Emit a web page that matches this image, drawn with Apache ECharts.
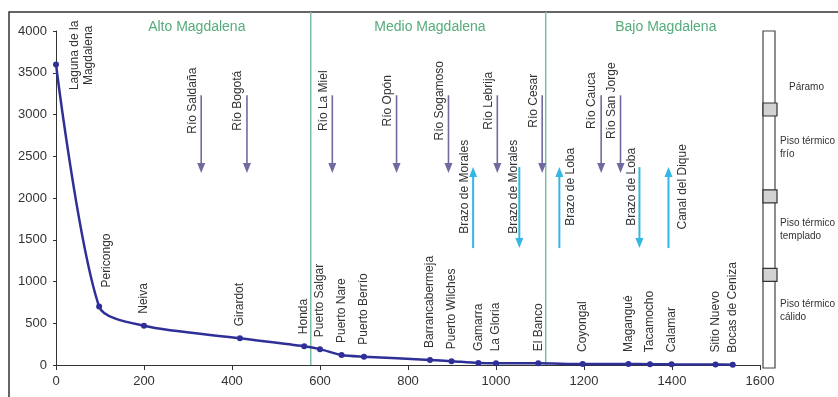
<!DOCTYPE html>
<html>
<head>
<meta charset="utf-8">
<script src="https://cdn.jsdelivr.net/npm/echarts@6/dist/echarts.min.js"></script>
<style>
  html, body { margin: 0; padding: 0; background: #fff; }
  #chart { width: 838px; height: 397px; }
</style>
</head>
<body>
<div id="chart"></div>
<script>
// Perfil longitudinal del río Magdalena: distancia desde el nacimiento (km) y altitud (m s.n.m.)

// Poblaciones sobre el cauce
const towns = ['Laguna de la\nMagdalena', 'Pericongo', 'Neiva', 'Girardot', 'Honda', 'Puerto Salgar',
  'Puerto Nare', 'Puerto Berrío', 'Barrancabermeja', 'Puerto Wilches', 'Gamarra', 'La Gloria',
  'El Banco', 'Coyongal', 'Magangué', 'Tacamocho', 'Calamar', 'Sitio Nuevo', 'Bocas de Ceniza'];
const townKm = [0, 98, 200, 418, 564, 600, 649, 700, 850, 899, 960, 1000, 1096, 1197, 1301, 1350, 1399, 1499, 1538];
const townAlt = [3600, 700, 470, 320, 225, 190, 120, 100, 60, 45, 25, 20, 20, 12, 12, 10, 8, 6, 3];

// Afluentes (entran al río)
const tributaries = ['Río Saldaña', 'Río Bogotá', 'Río La Miel', 'Río Opón', 'Río Sogamoso',
  'Río Lebrija', 'Río Cesar', 'Río Cauca', 'Río San Jorge'];
const tributaryKm = [330, 434, 628, 774, 892, 1003, 1105, 1239, 1283];

// Brazos y canales (salen del cauce o regresan a él)
const branches = ['Brazo de Morales', 'Brazo de Morales', 'Brazo de Loba', 'Brazo de Loba', 'Canal del Dique'];
const branchKm = [948, 1053, 1144, 1326, 1392];
const branchFlow = ['sale', 'entra', 'sale', 'entra', 'sale'];

// Tramos del río
const reaches = ['Alto Magdalena', 'Medio Magdalena', 'Bajo Magdalena'];
const reachLimitsKm = [579, 1113];

// Pisos térmicos
const floors = ['Páramo', 'Piso térmico\nfrío', 'Piso térmico\ntemplado', 'Piso térmico\ncálido'];
const floorLimits = [3060, 2020, 1080];

// Ejes
const xTicks = [0, 200, 400, 600, 800, 1000, 1200, 1400, 1600];
const yTicks = [0, 500, 1000, 1500, 2000, 2500, 3000, 3500, 4000];

// ---- estilo y disposición ----
const FONT = '"Liberation Sans", Arial, Helvetica, sans-serif';
const LINE_COLOR = '#2f2f98';
const TRIB_COLOR = '#6f6ba0';
const BRANCH_COLOR = '#33b8e6';
const REACH_COLOR = '#7fbfa2';
const REACH_TEXT = '#55ab7a';
const TEXT = '#333';

const reachTitleKm = [320, 850, 1386];
const tribArrow = { top: 3230, bottom: 2300, labelAt: 3165, dx: -9 };
const branchArrow = { top: 2370, bottom: 1400, labelAt: 2134 };
const branchLabelDx = [-8, -6, 11, -8, 14];
const townLabelLayout = { 0: { dx: 26, dy: -9, align: 'center' }, 1: { dx: 8, dy: -19, align: 'left' } };
const floorLabelAt = [3330, 2600, 1620, 650];
const floorLabelDx = [26, 17, 17, 17];

function arrow(x, yFrom, yTo, color, width, headW, headL) {
  const dir = yTo > yFrom ? 1 : -1;
  return [
    { type: 'line', shape: { x1: x, y1: yFrom, x2: x, y2: yTo - dir * headL * 0.5 },
      style: { stroke: color, lineWidth: width } },
    { type: 'polygon', shape: { points: [[x - headW / 2, yTo - dir * headL], [x + headW / 2, yTo - dir * headL], [x, yTo]] },
      style: { fill: color } }
  ];
}

function vText(text, x, y, align, size, color) {
  return { type: 'text', x: x, y: y, rotation: Math.PI / 2,
    style: { text: text, font: size + 'px ' + FONT, fill: color, align: align, verticalAlign: 'middle', lineHeight: 14 } };
}

const chart = echarts.init(document.getElementById('chart'));

chart.setOption({
  animation: false,
  backgroundColor: '#fff',
  grid: { left: 56, right: 78, top: 31, bottom: 32 },
  xAxis: {
    type: 'value', min: 0, max: 1600, interval: 200,
    axisLine: { lineStyle: { color: '#333', width: 1 } },
    axisTick: { show: true, length: 5, lineStyle: { color: '#333' } },
    axisLabel: { color: TEXT, fontSize: 13, fontFamily: FONT, margin: 10,
      formatter: v => (xTicks.indexOf(v) >= 0 ? String(v) : '') },
    splitLine: { show: false }
  },
  yAxis: {
    type: 'value', min: 0, max: 4000, interval: 500,
    axisLine: { show: true, lineStyle: { color: '#333', width: 1 } },
    axisTick: { show: true, length: 3, lineStyle: { color: '#333' } },
    axisLabel: { color: TEXT, fontSize: 13, fontFamily: FONT, margin: 9,
      formatter: v => (yTicks.indexOf(v) >= 0 ? String(v) : '') },
    splitLine: { show: false }
  },
  graphic: [
    { type: 'rect', shape: { x: 9, y: 12, width: 900, height: 500 },
      style: { fill: 'none', stroke: '#333', lineWidth: 1.5 }, silent: true, z: -1 }
  ],
  series: [
    // límites entre tramos
    {
      type: 'custom', clip: false, z: 1,
      data: reachLimitsKm.map(k => [k, 0]),
      renderItem: (params, api) => {
        const p = api.coord([api.value(0), 0]);
        const top = api.coord([api.value(0), 4000])[1] - 19;
        return { type: 'line', shape: { x1: p[0], y1: top, x2: p[0], y2: p[1] },
          style: { stroke: REACH_COLOR, lineWidth: 1.5 } };
      }
    },
    // nombres de los tramos
    {
      type: 'custom', clip: false, z: 2,
      data: reachTitleKm.map(k => [k, 4000]),
      renderItem: (params, api) => {
        const p = api.coord([api.value(0), api.value(1)]);
        return { type: 'text', x: p[0], y: p[1] - 4,
          style: { text: reaches[params.dataIndex], font: '14px ' + FONT, fill: REACH_TEXT,
            align: 'center', verticalAlign: 'middle' } };
      }
    },
    // afluentes
    {
      type: 'custom', clip: false, z: 3,
      data: tributaryKm.map(k => [k, tribArrow.top]),
      renderItem: (params, api) => {
        const k = api.value(0);
        const a = api.coord([k, tribArrow.top]);
        const b = api.coord([k, tribArrow.bottom]);
        const m = api.coord([k, tribArrow.labelAt]);
        return { type: 'group', children: [
          ...arrow(a[0], a[1], b[1], TRIB_COLOR, 1.6, 8, 10),
          vText(tributaries[params.dataIndex], a[0] + tribArrow.dx, m[1], 'center', 12, TEXT)
        ] };
      }
    },
    // brazos y canales
    {
      type: 'custom', clip: false, z: 3,
      data: branchKm.map(k => [k, branchArrow.top]),
      renderItem: (params, api) => {
        const i = params.dataIndex;
        const k = api.value(0);
        const a = api.coord([k, branchArrow.top]);
        const b = api.coord([k, branchArrow.bottom]);
        const m = api.coord([k, branchArrow.labelAt]);
        const parts = branchFlow[i] === 'sale'
          ? arrow(a[0], b[1], a[1], BRANCH_COLOR, 2, 8, 10)
          : arrow(a[0], a[1], b[1], BRANCH_COLOR, 2, 8, 10);
        return { type: 'group', children: [
          ...parts,
          vText(branches[i], a[0] + branchLabelDx[i], m[1], 'center', 12, TEXT)
        ] };
      }
    },
    // perfil del río
    {
      type: 'line', z: 5,
      data: townKm.map((k, i) => [k, townAlt[i]]),
      smooth: 0.28,
      symbol: 'circle', symbolSize: 6,
      lineStyle: { color: LINE_COLOR, width: 2.5 },
      itemStyle: { color: LINE_COLOR },
      label: { show: false }
    },
    // nombres de las poblaciones
    {
      type: 'custom', clip: false, z: 6,
      data: townKm.map((k, i) => [k, townAlt[i]]),
      renderItem: (params, api) => {
        const i = params.dataIndex;
        const p = api.coord([api.value(0), api.value(1)]);
        const l = townLabelLayout[i] || { dx: 0, dy: -12, align: 'left' };
        return vText(towns[i], p[0] + l.dx, p[1] + l.dy, l.align, 12, TEXT);
      }
    },
    // escala de pisos térmicos
    {
      type: 'custom', clip: false, z: 4,
      data: [[0, 0]],
      renderItem: (params, api) => {
        const top = api.coord([0, 4000])[1];
        const bottom = api.coord([0, 0])[1] + 3;
        const rightEdge = api.coord([1600, 0])[0];
        const bx = rightEdge + 3;
        const children = [
          { type: 'rect', shape: { x: bx, y: top, width: 12, height: bottom - top },
            style: { fill: '#fff', stroke: '#444', lineWidth: 1.2 } }
        ];
        floorLimits.forEach(v => {
          const y = api.coord([0, v])[1];
          children.push({ type: 'rect', shape: { x: bx, y: y - 6.5, width: 14, height: 13 },
            style: { fill: '#d2d2d2', stroke: '#333', lineWidth: 1.2 } });
        });
        floors.forEach((f, i) => {
          const y = api.coord([0, floorLabelAt[i]])[1];
          children.push({ type: 'text', x: bx + floorLabelDx[i], y: y,
            style: { text: f, font: '10px ' + FONT, fill: TEXT, align: 'left', verticalAlign: 'middle', lineHeight: 13 } });
        });
        return { type: 'group', children: children };
      }
    }
  ]
});
</script>
</body>
</html>
